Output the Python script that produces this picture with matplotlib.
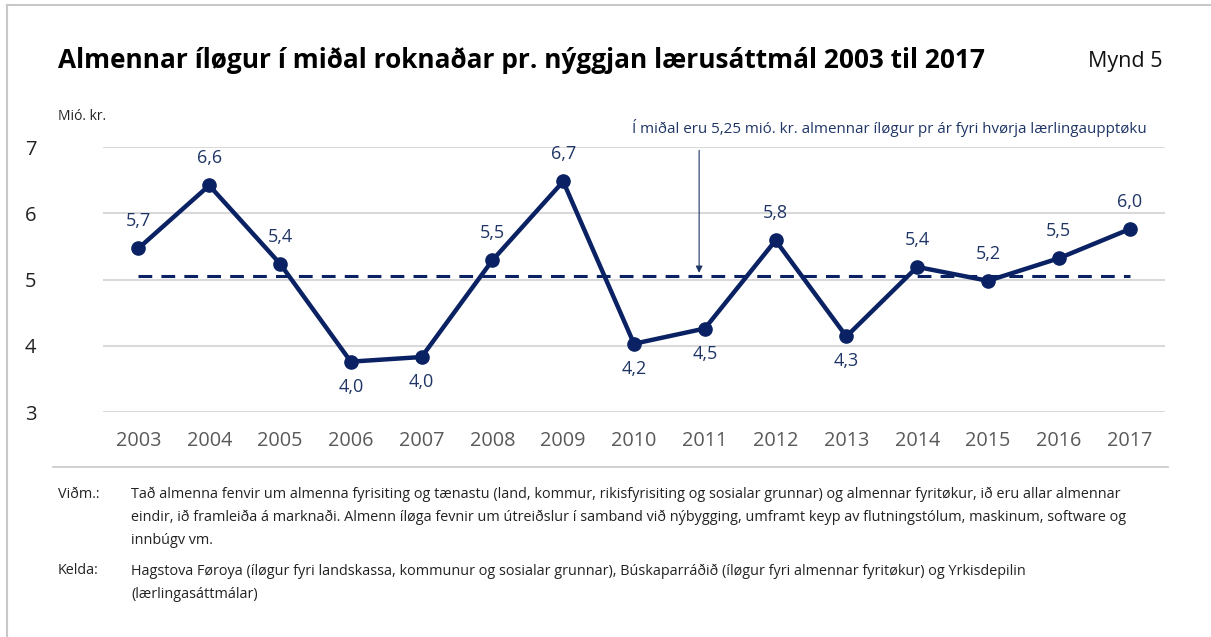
import matplotlib
matplotlib.use("Agg")
import matplotlib.pyplot as plt
from matplotlib.lines import Line2D

plt.rcParams['font.family'] = ['Open Sans', 'DejaVu Sans']

years = [2003, 2004, 2005, 2006, 2007, 2008, 2009, 2010, 2011, 2012, 2013, 2014, 2015, 2016, 2017]
values = [5.47, 6.42, 5.24, 3.76, 3.83, 5.29, 6.48, 4.03, 4.26, 5.59, 4.14, 5.19, 4.98, 5.32, 5.76]
labels = ["5,7", "6,6", "5,4", "4,0", "4,0", "5,5", "6,7", "4,2", "4,5", "5,8", "4,3", "5,4", "5,2", "5,5", "6,0"]
label_above = [True, True, True, False, False, True, True, False, False, True, False, True, True, True, True]
avg_line = 5.05
yticks = [3, 4, 5, 6, 7]

title = "Almennar íløgur í miðal roknaðar pr. nýggjan lærusáttmál 2003 til 2017"
fig_no = "Mynd 5"
unit = "Mió. kr."
annot = "Í miðal eru 5,25 mió. kr. almennar íløgur pr ár fyri hvørja lærlingaupptøku"
note_label = "Viðm.:"
note_lines = [
    "Tað almenna fenvir um almenna fyrisiting og tænastu (land, kommur, rikisfyrisiting og sosialar grunnar) og almennar fyritøkur, ið eru allar almennar",
    "eindir, ið framleiða á marknaði. Almenn íløga fevnir um útreiðslur í samband við nýbygging, umframt keyp av flutningstólum, maskinum, software og",
    "innbúgv vm.",
]
src_label = "Kelda:"
src_lines = [
    "Hagstova Føroya (íløgur fyri landskassa, kommunur og sosialar grunnar), Búskaparráðið (íløgur fyri almennar fyritøkur) og Yrkisdepilin",
    "(lærlingasáttmálar)",
]

NAVY = "#0a2263"
LABEL = "#1f3566"
GRAY_TXT = "#595959"
GRID = "#d9d9d9"

W, H = 1211, 637
fig = plt.figure(figsize=(W / 100, H / 100), dpi=100)

def fx(px):
    return px / W

def fy(py):
    return 1 - py / H

# axes: left 103, right 1165, top 147 (y=7), bottom 412 (y=3)
ax = fig.add_axes([fx(103), fy(412), fx(1165 - 103), (412 - 147) / H])
ax.set_xlim(2002.5, 2017.5)
ax.set_ylim(3, 7)
for s in ax.spines.values():
    s.set_visible(False)
ax.set_yticks(yticks)
ax.yaxis.grid(True, color=GRID, lw=1.5)
ax.set_axisbelow(True)
ax.tick_params(axis='both', length=0)
ax.tick_params(axis='y', labelsize=14.5, labelcolor="#222222", pad=24)
ax.set_xticks(years)
ax.set_xticklabels([str(y) for y in years])
ax.tick_params(axis='x', labelsize=14.3, labelcolor=GRAY_TXT, pad=14)
for t in ax.get_yticklabels():
    t.set_ha('left')
    t.set_x(-0.042)

ax.plot([years[0], years[-1]], [avg_line, avg_line], color=NAVY, lw=2.2,
        dashes=(4.5, 3), zorder=2)
ax.plot(years, values, color=NAVY, lw=3.2, marker='o', ms=9.5, zorder=3)

for x, v, lab, up in zip(years, values, labels, label_above):
    ax.annotate(lab, (x, v), xytext=(0, 19.5 if up else -18), textcoords='offset points',
                ha='center', va='center', fontsize=13, color=LABEL)

# annotation arrow
ax.annotate("", xy=(2010.92, 5.1), xytext=(2010.92, 6.95),
            arrowprops=dict(arrowstyle='-|>', color=LABEL, lw=0.8,
                            mutation_scale=10, shrinkA=0, shrinkB=0))
fig.text(fx(1147), fy(128), annot, ha='right', va='center', fontsize=10.9, color=LABEL)

# title and header
fig.text(fx(58), fy(61), title, ha='left', va='center', fontsize=18.9,
         fontweight='bold', color='black')
fig.text(fx(1163), fy(61), fig_no, ha='right', va='center', fontsize=15.5, color='#111111')
fig.text(fx(58), fy(116), unit, ha='left', va='center', fontsize=10, color='#222222')

# separator and borders
fig.add_artist(Line2D([fx(53), fx(1168)], [fy(467), fy(467)], color='#c8c8c8', lw=1.2))
fig.add_artist(Line2D([fx(6.5), fx(1211)], [fy(5), fy(5)], color='#c8c8c8', lw=1.5))
fig.add_artist(Line2D([fx(6.5), fx(6.5)], [fy(5), fy(637)], color='#c8c8c8', lw=1.5))

# notes
fs_note = 10.35
fig.text(fx(58), fy(494), note_label, ha='left', va='center', fontsize=fs_note, color='#222222')
for i, line in enumerate(note_lines):
    fig.text(fx(131), fy(494 + 23.5 * i), line, ha='left', va='center', fontsize=fs_note, color='#222222')
fig.text(fx(58), fy(571), src_label, ha='left', va='center', fontsize=fs_note, color='#222222')
for i, line in enumerate(src_lines):
    fig.text(fx(131), fy(571 + 23.5 * i), line, ha='left', va='center', fontsize=fs_note, color='#222222')

fig.savefig("out.png", dpi=100)
